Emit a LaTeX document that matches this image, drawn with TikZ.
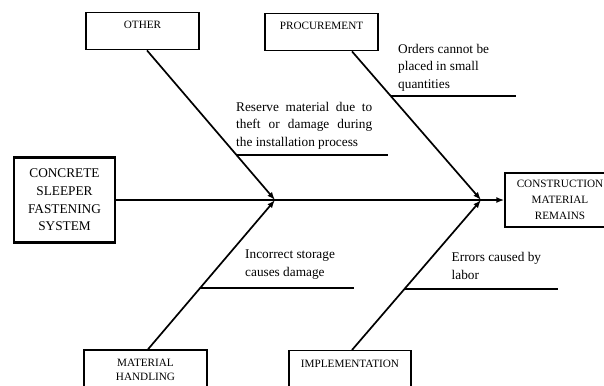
\documentclass[tikz,border=0pt]{standalone}
\usepackage{fontspec}
\setmainfont{Liberation Serif}
\usetikzlibrary{arrows.meta,calc}

\begin{document}
\begin{tikzpicture}[x=1pt,y=-1pt,
  catbox/.style={draw, line width=1.4pt, inner sep=0pt, align=center,
    font=\fontsize{11.2}{14}\selectfont},
  bone/.style={line width=1.7pt, -{Latex[length=8pt,width=6pt]}},
  rib/.style={line width=1.9pt},
  cause/.style={inner sep=0pt, anchor=base west, align=left,
    font=\fontsize{13.3}{17.3}\selectfont},
]
\clip (0,0) rectangle (604,385);

% category boxes
\node[catbox, anchor=north, minimum width=113pt, text height=16.3pt, text depth=20.7pt] (other) at (142.5,12) {OTHER};
\node[catbox, anchor=north, minimum width=113pt, text height=16pt, text depth=21pt] (proc) at (321.5,13) {PROCUREMENT};
\node[catbox, anchor=north, minimum width=122pt, text height=16.7pt, text depth=30pt] (impl) at (350,350) {IMPLEMENTATION};
\node[catbox, minimum width=123pt, minimum height=40pt, font=\fontsize{11.2}{13.8}\selectfont] (mh) at (145.5,370) {MATERIAL\\HANDLING};

% head and tail
\node[catbox, line width=2.4pt, minimum width=101pt, minimum height=85pt,
  font=\fontsize{13.3}{17.7}\selectfont] (csfs) at (64.5,200) {CONCRETE\\SLEEPER\\FASTENING\\SYSTEM};
\node[catbox, minimum width=110pt, minimum height=54pt,
  font=\fontsize{11.2}{15.7}\selectfont] (cmr) at (560,200) {CONSTRUCTION\\MATERIAL\\REMAINS};

% junctions on the spine
\coordinate (j1) at (275,200);
\coordinate (j2) at (481,200);

% spine and bones
\draw[bone] (csfs.east) -- (cmr.west);
\coordinate (o1) at ([xshift=4.5pt]other.south);
\coordinate (p1) at ([xshift=30.5pt]proc.south);
\coordinate (m1) at ([xshift=2.5pt]mh.north);
\coordinate (i1) at ([xshift=2pt]impl.north);
\draw[bone] (o1) -- (j1);
\draw[bone] (p1) -- (j2);
\draw[bone] (m1) -- (j1);
\draw[bone] (i1) -- (j2);

% ribs
\coordinate (r1s) at ($(o1)!0.701!(j1)$);
\coordinate (r2s) at ($(p1)!0.302!(j2)$);
\coordinate (r3s) at ($(m1)!0.408!(j1)$);
\coordinate (r4s) at ($(i1)!0.404!(j2)$);
\coordinate (r1e) at (388,0);
\coordinate (r2e) at (516,0);
\coordinate (r3e) at (354,0);
\coordinate (r4e) at (558,0);
\draw[rib] (r1s) -- (r1s -| r1e);
\draw[rib] (r2s) -- (r2s -| r2e);
\draw[rib] (r3s) -- (r3s -| r3e);
\draw[rib] (r4s) -- (r4s -| r4e);

% causes (anchored on the baseline of the last line)
\node[cause] (t1) at (236,146) {\makebox[136pt][s]{Reserve material due to}\\\makebox[136pt][s]{theft or damage during}\\the installation process};
\node[cause] (t2) at (398,88.3) {Orders cannot be\\placed in small\\quantities};
\node[cause] (t3) at (245,276) {Incorrect storage\\causes damage};
\node[cause] (t4) at (451.5,279) {Errors caused by\\labor};
\end{tikzpicture}
\end{document}
